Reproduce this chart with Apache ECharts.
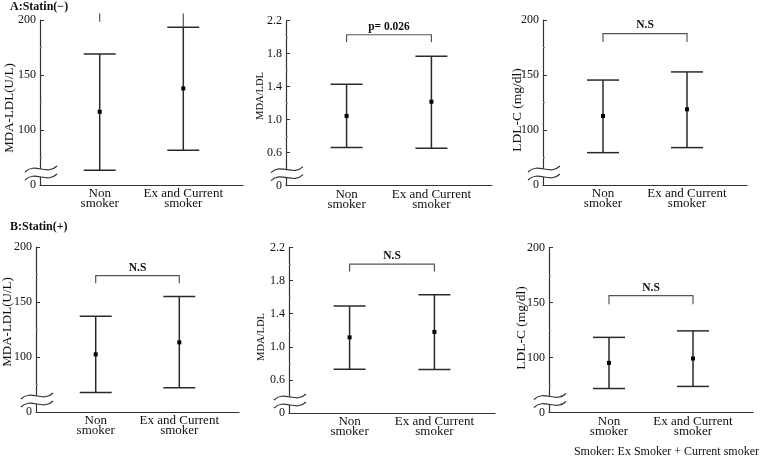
<!DOCTYPE html>
<html>
<head>
<meta charset="utf-8">
<script src="https://cdn.jsdelivr.net/npm/echarts@6/dist/echarts.min.js"></script>
<style>
html,body{margin:0;padding:0;background:#fff;}
#chart{width:760px;height:458px;}
</style>
</head>
<body>
<div id="chart"></div>
<script>
// ---------------- data ----------------
const categories = ['Non\nsmoker', 'Ex and Current\nsmoker'];
const catPos = [1, 2.4];
const rowTitles = ['A:Statin(\u2212)', 'B:Statin(+)'];
const yNames = ['MDA-LDL(U/L)', 'MDA/LDL', 'LDL-C (mg/dl)', 'MDA-LDL(U/L)', 'MDA/LDL', 'LDL-C (mg/dl)'];
// visible axis range; the lowest tick is labelled "0" (broken axis)
const yMin = [50, 0.2, 50, 50, 0.2, 50];
const yMax = [200, 2.2, 200, 200, 2.2, 200];
const yInterval = [50, 0.4, 50, 50, 0.4, 50];
// mean and error-bar ends, [Non smoker, Ex and Current smoker]
const means = [[116.6, 137.8], [1.046, 1.218], [112.7, 118.8], [102.4, 113.3], [1.114, 1.18], [95.1, 99.1]];
const upper = [[169, 193.4], [1.43, 1.77], [145.4, 152.8], [137, 155], [1.493, 1.628], [118.3, 124.2]];
const lower = [[63.4, 81.5], [0.662, 0.653], [79.4, 84], [67.7, 72], [0.73, 0.726], [71.8, 73.7]];
// significance brackets
const bracketTop = [206, 2.03, 187.7, 174, 2.0, 156.2];
const bracketLegL = [198.4, 1.94, 180, 167, 1.91, 148.4];
const bracketLegR = [193.4, 1.94, 180, 167, 1.91, 148.4];
const bracketText = ['', 'p= 0.026', 'N.S', 'N.S', 'N.S', 'N.S'];
const footnote = 'Smoker: Ex Smoker + Current smoker';

// ---------------- layout / style ----------------
const FONT = '"Liberation Serif", "DejaVu Serif", serif';
const grids = [
  {left: 40, top: 20, width: 203, height: 165},
  {left: 286, top: 20.7, width: 206, height: 165},
  {left: 543, top: 20, width: 204, height: 165},
  {left: 36, top: 247, width: 203, height: 165},
  {left: 289, top: 247.5, width: 206, height: 165.5},
  {left: 549, top: 247.5, width: 204, height: 165}
];
// centre of each rotated y-axis title
const nameCenters = [[10, 108], [260, 96], [517.5, 110], [7.5, 322], [261, 337], [521, 328]];
const nameSizes = [13, 10.5, 13.5, 13, 10.5, 13.5];
const showBar = [false, true, true, true, true, true];

const chart = echarts.init(document.getElementById('chart'), null, {renderer: 'canvas'});

function renderErr(params, api) {
  const x = api.value(0), m = api.value(1), lo = api.value(2), hi = api.value(3);
  const pHi = api.coord([x, hi]), pLo = api.coord([x, lo]), pM = api.coord([x, m]);
  const hw = 16;
  const st = {stroke: '#2a2a2a', lineWidth: 1.5};
  return {type: 'group', children: [
    {type: 'line', shape: {x1: pHi[0], y1: pHi[1], x2: pLo[0], y2: pLo[1]}, style: st},
    {type: 'line', shape: {x1: pHi[0] - hw, y1: pHi[1], x2: pHi[0] + hw, y2: pHi[1]}, style: st},
    {type: 'line', shape: {x1: pLo[0] - hw, y1: pLo[1], x2: pLo[0] + hw, y2: pLo[1]}, style: st},
    {type: 'rect', shape: {x: pM[0] - 2, y: pM[1] - 2, width: 4, height: 4}, style: {fill: '#000'}}
  ]};
}

function makeBracketRenderer(i) {
  return function (params, api) {
    const x1 = api.value(0), x2 = api.value(1), top = api.value(2), lL = api.value(3), lR = api.value(4);
    const a = api.coord([x1, top]), b = api.coord([x2, top]);
    const al = api.coord([x1, lL]), br = api.coord([x2, lR]);
    const st = {stroke: '#555', lineWidth: 1.2, fill: null};
    const children = [];
    if (showBar[i]) {
      children.push({type: 'polyline', shape: {points: [al, a, b, br]}, style: st});
      children.push({type: 'text', style: {text: bracketText[i], x: (a[0] + b[0]) / 2, y: a[1] - 2,
        align: 'center', verticalAlign: 'bottom', fontSize: 11.5, fontWeight: 'bold', fontFamily: FONT, fill: '#111'}});
    } else {
      children.push({type: 'line', shape: {x1: a[0], y1: a[1], x2: al[0], y2: al[1]}, style: st});
      children.push({type: 'line', shape: {x1: b[0], y1: b[1], x2: br[0], y2: br[1]}, style: st});
    }
    return {type: 'group', children: children};
  };
}

function renderBreak(params, api) {
  const c = api.coord([api.value(0), api.value(1)]);
  const x = c[0], y1 = c[1] - 16, y2 = c[1] - 8;
  const wave = (y) => 'M' + (x - 15) + ' ' + (y + 3) + ' C' + (x - 5) + ' ' + (y - 7) + ' ' + (x + 7) + ' ' + (y + 7) + ' ' + (x + 17) + ' ' + (y - 3);
  const fill = 'M' + (x - 15) + ' ' + (y1 + 3) + ' C' + (x - 5) + ' ' + (y1 - 7) + ' ' + (x + 7) + ' ' + (y1 + 7) + ' ' + (x + 17) + ' ' + (y1 - 3) +
    ' L' + (x + 17) + ' ' + (y2 - 3) + ' C' + (x + 7) + ' ' + (y2 + 7) + ' ' + (x - 5) + ' ' + (y2 - 7) + ' ' + (x - 15) + ' ' + (y2 + 3) + ' Z';
  const st = {stroke: '#333', lineWidth: 1.2, fill: null};
  return {type: 'group', children: [
    {type: 'path', shape: {pathData: fill}, style: {fill: '#fff', stroke: null}},
    {type: 'path', shape: {pathData: wave(y1)}, style: st},
    {type: 'path', shape: {pathData: wave(y2)}, style: st}
  ]};
}

const xAxes = [], yAxes = [], series = [], graphics = [];
grids.forEach((g, i) => {
  xAxes.push({
    gridIndex: i, type: 'value', min: 0, max: 3.4, interval: 0.2,
    axisLine: {show: true, lineStyle: {color: '#333', width: 1.2}},
    axisTick: {show: false}, splitLine: {show: false},
    axisLabel: {
      margin: 4, fontFamily: FONT, fontSize: 13, lineHeight: 10, color: '#111',
      formatter: (v) => { const k = catPos.findIndex(p => Math.abs(p - v) < 1e-6); return k >= 0 ? categories[k] : ''; }
    }
  });
  yAxes.push({
    gridIndex: i, type: 'value', min: yMin[i], max: yMax[i], interval: yInterval[i],
    axisLine: {show: true, lineStyle: {color: '#333', width: 1.2}},
    axisTick: {show: true, inside: true, length: 4, lineStyle: {color: '#333'}},
    minorTick: {show: true, splitNumber: 2, length: 2, lineStyle: {color: '#888'}},
    splitLine: {show: false},
    axisLabel: {
      margin: 4, fontFamily: FONT, fontSize: 12, color: '#111',
      formatter: (v) => Math.abs(v - yMin[i]) < 1e-9 ? '0' : (yInterval[i] < 1 ? v.toFixed(1) : String(v))
    }
  });
  graphics.push({
    type: 'text', x: nameCenters[i][0], y: nameCenters[i][1], rotation: Math.PI / 2,
    style: {text: yNames[i], align: 'center', verticalAlign: 'middle', fontFamily: FONT, fontSize: nameSizes[i], fill: '#111'}
  });
  series.push({
    type: 'custom', xAxisIndex: i, yAxisIndex: i, renderItem: renderErr, clip: false,
    data: catPos.map((p, k) => [p, means[i][k], lower[i][k], upper[i][k]])
  });
  series.push({
    type: 'custom', xAxisIndex: i, yAxisIndex: i, renderItem: makeBracketRenderer(i), clip: false,
    data: [[catPos[0], catPos[1], bracketTop[i], bracketLegL[i], bracketLegR[i]]]
  });
  series.push({
    type: 'custom', xAxisIndex: i, yAxisIndex: i, renderItem: renderBreak, clip: false, z: 5,
    data: [[0, yMin[i]]]
  });
});

chart.setOption({
  animation: false,
  backgroundColor: '#fff',
  title: [
    {text: rowTitles[0], left: 10, top: 1, padding: 0, textStyle: {fontFamily: FONT, fontSize: 12, fontWeight: 'bold', color: '#111'}},
    {text: rowTitles[1], left: 10, top: 221, padding: 0, textStyle: {fontFamily: FONT, fontSize: 12, fontWeight: 'bold', color: '#111'}},
    {text: footnote, right: 1, top: 446, padding: 0, textStyle: {fontFamily: FONT, fontSize: 12, fontWeight: 'normal', color: '#111'}}
  ],
  graphic: graphics,
  grid: grids,
  xAxis: xAxes,
  yAxis: yAxes,
  series: series
});
</script>
</body>
</html>
